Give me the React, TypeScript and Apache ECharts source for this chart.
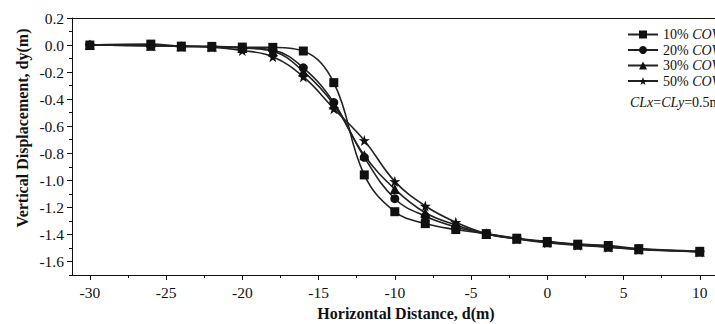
import React, { useEffect, useRef } from "react";
import * as echarts from "echarts";

const distances = [-30, -26, -24, -22, -20, -18, -16, -14, -12, -10, -8, -6, -4, -2, 0, 2, 4, 6, 10];
const cov10 = [0, 0.007, -0.008, -0.01, -0.015, -0.017, -0.044, -0.278, -0.96, -1.232, -1.32, -1.364, -1.394, -1.428, -1.452, -1.472, -1.482, -1.505, -1.525];
const cov20 = [0, -0.005, -0.01, -0.012, -0.02, -0.037, -0.168, -0.425, -0.83, -1.136, -1.266, -1.345, -1.396, -1.43, -1.455, -1.475, -1.49, -1.508, -1.527];
const cov30 = [0, -0.005, -0.01, -0.012, -0.022, -0.045, -0.195, -0.44, -0.815, -1.065, -1.24, -1.33, -1.396, -1.432, -1.458, -1.477, -1.492, -1.51, -1.528];
const cov50 = [0, -0.005, -0.01, -0.015, -0.04, -0.086, -0.234, -0.47, -0.705, -1.008, -1.19, -1.31, -1.394, -1.433, -1.462, -1.48, -1.495, -1.512, -1.53];

const seriesNames = ["10% COV", "20% COV", "30% COV", "50% COV"];
const xTicks = [-30, -25, -20, -15, -10, -5, 0, 5, 10];
const xMinorTicks = [-27.5, -22.5, -17.5, -12.5, -7.5, -2.5, 2.5, 7.5];
const yTicks = [0.2, 0, -0.2, -0.4, -0.6, -0.8, -1.0, -1.2, -1.4, -1.6];
const yMinorTicks = [0.1, -0.1, -0.3, -0.5, -0.7, -0.9, -1.1, -1.3, -1.5, -1.7];

const STAR = "path://M50,0 L61.8,35.1 L97.6,34.5 L69.1,56.7 L79.4,90.5 L50,70 L20.6,90.5 L30.9,56.7 L2.4,34.5 L38.2,35.1 Z";

export default function App() {
  const ref = useRef<HTMLDivElement>(null);
  useEffect(() => {
    if (!ref.current) return;
    const chart = echarts.init(ref.current, null, { renderer: "svg" });
    const font = "'Liberation Serif', 'Times New Roman', serif";
    const ink = "#111";
    const symbols = ["rect", "circle", "triangle", STAR];
    const sizes = [9, 9, 10, 11];
    const data = [cov10, cov20, cov30, cov50];
    const xMin = -31.17;
    const xMax = 11;
    const yMin = -1.7;
    const yMax = 0.2;
    const lineOn = { show: true, onZero: false, lineStyle: { color: ink, width: 1 } };
    const lineOff = { show: false, onZero: false };
    chart.setOption({
      animation: false,
      backgroundColor: "#fff",
      grid: { left: 72, top: 18, bottom: 49, right: -4, containLabel: false },
      xAxis: [
        {
          type: "value", min: xMin, max: xMax, position: "bottom",
          axisLine: lineOn,
          axisTick: { show: true, length: 5, customValues: xTicks, lineStyle: { color: ink } },
          axisLabel: { customValues: xTicks, margin: 9, fontFamily: font, fontSize: 15.5, color: ink, formatter: (v: number) => String(v) },
          splitLine: { show: false },
        },
        {
          type: "value", min: xMin, max: xMax, position: "bottom",
          axisLine: lineOff,
          axisTick: { show: true, length: 3, customValues: xMinorTicks, lineStyle: { color: ink } },
          axisLabel: { show: false },
          splitLine: { show: false },
        },
        {
          type: "value", min: xMin, max: xMax, position: "top",
          axisLine: lineOn,
          axisTick: { show: false },
          axisLabel: { show: false },
          splitLine: { show: false },
        },
      ],
      yAxis: [
        {
          type: "value", min: yMin, max: yMax, position: "left",
          axisLine: lineOn,
          axisTick: { show: true, length: 5, customValues: yTicks, lineStyle: { color: ink } },
          axisLabel: { customValues: yTicks, margin: 8, fontFamily: font, fontSize: 15.5, color: ink, formatter: (v: number) => v.toFixed(1) },
          splitLine: { show: false },
        },
        {
          type: "value", min: yMin, max: yMax, position: "left",
          axisLine: lineOff,
          axisTick: { show: true, length: 3, customValues: yMinorTicks, lineStyle: { color: ink } },
          axisLabel: { show: false },
          splitLine: { show: false },
        },
      ],
      legend: {
        orient: "vertical",
        left: 627,
        top: 27,
        padding: 0,
        itemWidth: 30,
        itemHeight: 10,
        itemGap: 0.5,
        data: seriesNames,
        formatter: (name: string) => {
          const parts = name.split(" ");
          return `{n|${parts[0]} }{i|${parts[1]}}`;
        },
        textStyle: {
          color: ink,
          fontFamily: font,
          fontSize: 14,
          lineHeight: 15,
          rich: {
            n: { fontFamily: font, fontSize: 14, lineHeight: 15, color: ink },
            i: { fontFamily: font, fontSize: 14, lineHeight: 15, color: ink, fontStyle: "italic" },
          },
        },
      },
      graphic: [
        {
          type: "text", left: 630, top: 95,
          style: {
            text: "{i|CLx}{n|=}{i|CLy}{n|=0.5m}",
            rich: {
              n: { fontFamily: font, fontSize: 14, fill: ink },
              i: { fontFamily: font, fontSize: 14, fill: ink, fontStyle: "italic" },
            },
          },
        },
        {
          type: "text", x: 406, y: 313,
          style: { text: "Horizontal Distance, d(m)", fontFamily: font, fontWeight: "bold", fontSize: 16, fill: ink, align: "center", verticalAlign: "middle" },
        },
        {
          type: "text", x: 22, y: 128, rotation: Math.PI / 2,
          style: { text: "Vertical Displacement, dy(m)", fontFamily: font, fontWeight: "bold", fontSize: 16, fill: ink, align: "center", verticalAlign: "middle" },
        },
      ],
      series: seriesNames.map((name, i) => ({
        name,
        type: "line",
        xAxisIndex: 0,
        yAxisIndex: 0,
        smooth: 0.4,
        symbol: symbols[i],
        symbolSize: sizes[i],
        showSymbol: true,
        lineStyle: { color: "#222", width: 1.6 },
        itemStyle: { color: "#111", borderWidth: 0 },
        data: distances.map((d, j) => [d, data[i][j]]),
      })),
    });
    return () => chart.dispose();
  }, []);
  return <div ref={ref} style={{ position: "fixed", left: 0, top: 0, width: 715, height: 324 }} />;
}
